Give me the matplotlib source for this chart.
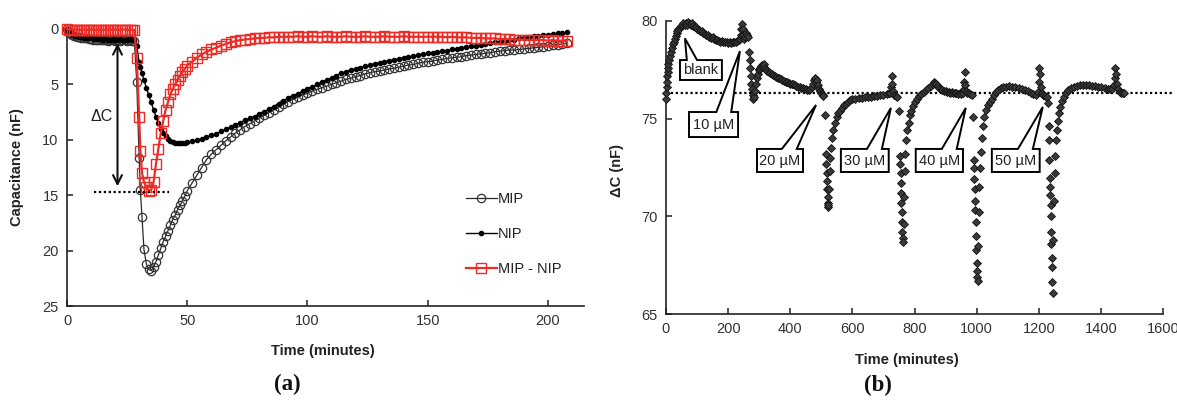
import numpy as np
import matplotlib
matplotlib.use("Agg")
import matplotlib.pyplot as plt
from matplotlib.patches import Polygon

plt.rcParams['font.family'] = ['Liberation Sans', 'DejaVu Sans']

# ---------------- Panel (a) data ----------------
T_A = [0, 1, 2, 3, 4, 5, 6, 7, 8, 9, 10, 11, 12, 13, 14, 15, 16, 17, 18, 19, 20, 21, 22, 23, 24, 25, 26, 27, 28,
       29, 30, 30.5, 31.2, 32, 33, 34, 35, 36, 37, 38, 39, 40, 41, 42, 43, 44, 45, 46, 47, 48, 49, 50,
       52, 54, 56, 58, 60, 62, 64, 66, 68, 70, 72, 74, 76, 78, 80, 82, 84, 86, 88, 90,
       92, 94, 96, 98, 100, 102, 104, 106, 108, 110, 112, 114, 116, 118, 120, 122, 124, 126, 128, 130,
       132, 134, 136, 138, 140, 142, 144, 146, 148, 150, 152, 154, 156, 158, 160, 162, 164, 166, 168, 170,
       172, 174, 176, 178, 180, 182, 184, 186, 188, 190, 192, 194, 196, 198, 200, 202, 204, 206, 208]

MIP = [0.0, 0.35, 0.55, 0.65, 0.7, 0.75, 0.8, 0.85, 0.85, 0.9, 0.9, 0.95, 0.95, 1.0, 0.95, 1.0, 1.0, 1.05, 1.0,
       1.0, 1.05, 1.0, 1.05, 1.0, 1.0, 1.05, 1.0, 1.05, 1.1,
       4.8, 11.6, 14.5, 17.0, 19.9, 21.2, 21.7, 21.8, 21.5, 21.0, 20.4, 19.8, 19.2, 18.7, 18.2, 17.7, 17.2, 16.8,
       16.3, 15.9, 15.5, 15.1, 14.6,
       13.9, 13.2, 12.5, 11.8, 11.3, 10.9, 10.5, 10.1, 9.75, 9.4,
       9.1, 8.8, 8.55, 8.3, 8.05, 7.8, 7.55, 7.3, 7.05, 6.8,
       6.55, 6.35, 6.15, 5.95, 5.8, 5.6, 5.45, 5.3, 5.15, 5.0,
       4.85, 4.7, 4.55, 4.45, 4.3, 4.2, 4.05, 3.95, 3.85, 3.8,
       3.7, 3.6, 3.55, 3.45, 3.35, 3.25, 3.2, 3.1, 3.0, 2.95,
       2.9, 2.8, 2.75, 2.65, 2.6, 2.55, 2.5, 2.4, 2.35, 2.3,
       2.25, 2.2, 2.15, 2.05, 2.0, 1.95, 1.9, 1.9, 1.85, 1.8,
       1.75, 1.7, 1.65, 1.6, 1.5, 1.45, 1.4, 1.35, 1.3]

NIP = [0.0, 0.3, 0.5, 0.6, 0.65, 0.7, 0.75, 0.8, 0.8, 0.85, 0.85, 0.9, 0.9, 0.9, 0.9, 0.95, 0.9, 0.95, 0.95,
       0.9, 0.95, 0.95, 0.9, 0.95, 0.95, 0.95, 0.9, 0.95, 1.0,
       1.5, 3.0, 3.4, 4.0, 4.6, 5.3, 6.0, 6.6, 7.3, 7.9, 8.5, 9.0, 9.4, 9.7, 9.9, 10.1, 10.2, 10.25,
       10.3, 10.3, 10.3, 10.25, 10.2,
       10.15, 10.05, 9.9, 9.75, 9.6, 9.45, 9.25, 9.05, 8.85, 8.65,
       8.45, 8.25, 8.05, 7.9, 7.7, 7.45, 7.25, 7.0, 6.75, 6.5,
       6.25, 6.05, 5.85, 5.6, 5.4, 5.2, 5.0, 4.8, 4.6, 4.4,
       4.2, 4.0, 3.85, 3.7, 3.6, 3.5, 3.35, 3.25, 3.15, 3.05,
       2.95, 2.85, 2.8, 2.7, 2.6, 2.5, 2.45, 2.35, 2.3, 2.2,
       2.15, 2.1, 2.0, 1.95, 1.85, 1.8, 1.7, 1.65, 1.55, 1.5,
       1.45, 1.35, 1.3, 1.2, 1.15, 1.05, 1.0, 0.95, 0.85, 0.8,
       0.7, 0.65, 0.6, 0.55, 0.5, 0.45, 0.4, 0.35, 0.3]

MIP_NIP = [0.0, 0.05, 0.05, 0.05, 0.05, 0.1, 0.05, 0.05, 0.1, 0.05, 0.05, 0.05, 0.1, 0.05, 0.05, 0.1, 0.05,
           0.05, 0.05, 0.1, 0.05, 0.05, 0.1, 0.05, 0.05, 0.05, 0.1, 0.05, 0.1,
           2.6, 7.9, 11.0, 13.0, 13.8, 14.3, 14.6, 14.5, 13.8, 12.2, 10.8, 9.4, 8.3, 7.3, 6.6, 5.9, 5.4, 5.0,
           4.6, 4.2, 3.9, 3.6, 3.3,
           2.95, 2.6, 2.3, 2.05, 1.85, 1.7, 1.5, 1.35, 1.2, 1.1,
           1.0, 0.95, 0.9, 0.85, 0.8, 0.8, 0.75, 0.75, 0.7, 0.7,
           0.7, 0.7, 0.65, 0.7, 0.7, 0.65, 0.7, 0.7, 0.65, 0.7,
           0.7, 0.7, 0.65, 0.7, 0.7, 0.7, 0.65, 0.7, 0.7, 0.7,
           0.65, 0.7, 0.7, 0.7, 0.65, 0.7, 0.7, 0.7, 0.7, 0.7,
           0.7, 0.7, 0.7, 0.75, 0.7, 0.75, 0.75, 0.75, 0.8, 0.8,
           0.8, 0.85, 0.85, 0.85, 0.9, 0.9, 0.9, 0.95, 0.95, 0.95,
           1.0, 1.0, 1.0, 1.0, 1.05, 1.0, 1.05, 1.05, 1.05]

LEGEND_A = ["MIP", "NIP", "MIP - NIP"]
DELTA_C_LEVEL = 14.7

# ---------------- Panel (b) data ----------------
T_B = [0, 1, 2, 3, 4, 5, 6, 8, 10, 13, 16, 19, 22, 25, 28, 31, 34, 37, 40, 44,
       48, 52, 56, 60, 64, 68, 72, 76, 80, 84, 88, 92, 96, 100, 105, 110, 115, 120, 125, 130,
       135, 140, 145, 150, 155, 160, 165, 170, 175, 180, 185, 190, 195, 200, 205, 210, 215, 220, 225, 230,
       234, 238, 241, 243, 245, 247, 249, 252, 255, 258, 261, 264, 267, 269, 271, 273, 275, 277, 279, 281,
       283, 286, 289, 292, 295, 298, 301, 304, 307, 310, 313, 316, 319, 322, 326, 330, 335, 340, 345, 350,
       355, 360, 365, 370, 375, 380, 385, 390, 395, 400, 405, 410, 415, 420, 425, 430, 435, 440, 445, 450,
       455, 460, 465, 470, 474, 477, 480, 483, 486, 489, 492, 495, 498, 501, 504, 507,
       511, 514, 515.5, 517, 518, 519, 520, 521, 522, 523, 525, 527, 529, 531, 534, 538, 543, 549, 555, 560,
       566, 572, 578, 585, 592, 600, 610, 620, 630, 640, 650, 660, 670, 680, 690, 700, 710, 717, 721, 724,
       726, 728, 731, 735, 740, 745,
       750, 753, 754, 755, 756, 757, 758, 759, 760, 761, 762, 763, 765, 767, 769, 771, 774, 777, 781, 785,
       790, 796, 802, 808, 815, 822, 830, 838, 845, 852, 858, 862, 866,
       870, 875, 880, 885, 890, 895, 900, 905, 910, 915, 920, 925, 930, 935, 940, 945, 950, 955, 958, 960,
       962, 964, 967, 970, 975, 980, 985,
       989, 991, 992, 993, 994, 995, 996, 997, 998, 999, 1000, 1001, 1002, 1003, 1005, 1007, 1009, 1011, 1013, 1016,
       1020, 1025, 1030, 1036, 1042, 1048, 1055, 1062, 1070, 1078, 1086, 1095, 1105, 1115, 1125, 1135, 1145, 1155, 1165, 1175,
       1182, 1190, 1196, 1200, 1202, 1204, 1207, 1211, 1215, 1220, 1226,
       1230, 1232, 1233, 1234, 1235, 1236, 1237, 1238, 1239, 1240, 1241, 1242, 1243, 1244, 1245, 1247, 1249, 1251, 1253, 1256,
       1259, 1262, 1266, 1270, 1275, 1281, 1288, 1295, 1303, 1312, 1322, 1332, 1342, 1352, 1362, 1372, 1382, 1392, 1402, 1412,
       1422, 1430, 1436, 1441, 1444, 1446, 1448, 1451, 1455, 1460, 1465, 1470, 1475]

V_B = [76.0, 76.3, 76.6, 76.9, 77.2, 77.4, 77.6, 77.8, 78.0, 78.2, 78.4, 78.6, 78.8, 78.95, 79.1, 79.25, 79.4, 79.5, 79.6, 79.65,
       79.75, 79.8, 79.9, 79.8, 79.9, 79.8, 79.95, 79.85, 79.8, 79.9, 79.75, 79.7, 79.7, 79.6, 79.55, 79.5, 79.5, 79.4, 79.35, 79.3,
       79.3, 79.2, 79.15, 79.2, 79.1, 79.05, 79.05, 79.0, 78.95, 79.0, 78.9, 78.95, 78.9, 78.85, 78.95, 78.85, 78.9, 78.95, 78.9, 79.0,
       79.05, 79.1, 79.3, 79.6, 79.85, 79.6, 79.3, 79.1, 79.2, 79.4, 79.3, 79.2, 78.4, 78.0, 77.6, 77.2, 76.8, 76.5, 76.2, 76.0,
       76.1, 76.4, 76.8, 77.1, 77.3, 77.5, 77.55, 77.6, 77.7, 77.75, 77.7, 77.8, 77.6, 77.5, 77.45, 77.4, 77.35, 77.3, 77.25, 77.2,
       77.15, 77.1, 77.1, 77.05, 77.0, 76.95, 76.9, 76.9, 76.85, 76.8, 76.75, 76.75, 76.7, 76.65, 76.6, 76.6, 76.55, 76.55, 76.5, 76.5,
       76.45, 76.45, 76.5, 76.6, 76.8, 77.0, 77.1, 76.9, 77.0, 76.7, 76.5, 76.4, 76.3, 76.25, 76.2, 76.15,
       75.2, 73.2, 72.7, 72.2, 71.8, 71.4, 71.0, 70.7, 70.5, 70.6, 71.4, 72.3, 73.0, 73.5, 74.0, 74.4, 74.8, 75.1, 75.3, 75.4,
       75.55, 75.7, 75.75, 75.85, 75.95, 76.0, 76.0, 76.05, 76.05, 76.1, 76.1, 76.1, 76.15, 76.15, 76.2, 76.2, 76.25, 76.3, 76.3, 76.6,
       77.2, 76.8, 76.4, 76.2, 76.15, 76.1,
       75.4, 73.1, 72.7, 72.2, 71.7, 71.2, 70.7, 70.2, 69.7, 69.2, 68.9, 68.7, 69.6, 71.0, 72.3, 73.2, 73.9, 74.4, 74.8, 75.2,
       75.4, 75.65, 75.85, 76.0, 76.15, 76.25, 76.35, 76.45, 76.55, 76.65, 76.8, 76.9, 76.85,
       76.75, 76.65, 76.55, 76.5, 76.45, 76.4, 76.4, 76.35, 76.35, 76.3, 76.35, 76.3, 76.3, 76.3, 76.25, 76.3, 76.25, 76.3, 76.5, 76.9,
       77.4, 76.7, 76.4, 76.3, 76.3, 76.25, 76.2,
       75.1, 72.9, 72.5, 71.9, 71.4, 70.8, 70.3, 69.7, 69.0, 68.3, 67.6, 67.2, 66.9, 66.7, 68.5, 70.2, 71.5, 72.5, 73.3, 74.0,
       74.6, 75.1, 75.45, 75.7, 75.85, 76.0, 76.2, 76.35, 76.45, 76.55, 76.6, 76.6, 76.65, 76.6, 76.6, 76.55, 76.5, 76.45, 76.4, 76.3,
       76.25, 76.2, 76.35, 76.9, 77.6, 77.3, 76.6, 76.3, 76.2, 76.15, 76.1,
       75.8, 74.6, 73.9, 72.9, 71.95, 71.5, 71.1, 70.6, 70.0, 69.2, 68.6, 67.85, 67.4, 66.66, 66.1, 68.8, 70.8, 72.2, 73.1, 73.9,
       74.4, 74.9, 75.3, 75.6, 75.9, 76.1, 76.3, 76.45, 76.55, 76.6, 76.65, 76.7, 76.7, 76.7, 76.7, 76.65, 76.65, 76.6, 76.6, 76.55,
       76.5, 76.5, 76.5, 76.7, 77.1, 77.6, 77.3, 76.8, 76.5, 76.35, 76.3, 76.3, 76.3]

BASELINE_B = 76.3

# callouts: label, box x-range, box y-range, wedge base on box top, wedge tip
CALLOUT_LABELS = ["blank", "10 µM", "20 µM", "30 µM", "40 µM", "50 µM"]
CALLOUT_BOX_X = [(45, 180), (74, 232), (293, 441), (563, 717), (804, 956), (1049, 1203)]
CALLOUT_BOX_Y = [(76.98, 78.0), (74.06, 75.34), (72.27, 73.45), (72.27, 73.45), (72.27, 73.45), (72.27, 73.45)]
CALLOUT_BASE = [(67, 100), (162, 210), (373, 421), (647, 695), (888, 936), (1133, 1181)]
CALLOUT_TIP = [(61, 79.11), (238, 78.46), (483, 75.7), (724, 75.55), (965, 75.55), (1213, 75.6)]

assert len(T_A) == len(MIP) == len(NIP) == len(MIP_NIP), (len(T_A), len(MIP), len(NIP), len(MIP_NIP))
assert len(T_B) == len(V_B), (len(T_B), len(V_B))

W, H = 1177, 401
fig = plt.figure(figsize=(W / 100, H / 100), dpi=100)

TICK_COLOR = '#333333'
LABEL_SIZE = 10.5


def style_axes(ax):
    for s in ['top', 'right']:
        ax.spines[s].set_visible(False)
    for s in ['left', 'bottom']:
        ax.spines[s].set_linewidth(1.2)
        ax.spines[s].set_color('#222222')
    ax.tick_params(direction='in', length=4, width=1.1, labelsize=LABEL_SIZE,
                   labelcolor=TICK_COLOR, color='#222222', pad=6)


# ---------------- Panel (a) ----------------
ax = fig.add_axes([67 / W, 1 - 306 / H, (584 - 67) / W, (306 - 29) / H])
style_axes(ax)
l1, = ax.plot(T_A, MIP, color='#2a2a2a', lw=0.9, marker='o', ms=6.0, mfc='none', mec='#333333',
              mew=0.9, clip_on=False, zorder=3)
l2, = ax.plot(T_A, NIP, color='black', lw=1.0, marker='o', ms=3.0, mfc='black', mec='black',
              clip_on=False, zorder=4)
l3, = ax.plot(T_A, MIP_NIP, color='#ee2b24', lw=1.6, marker='s', ms=6.5, mfc='none', mec='#ee2b24',
              mew=1.0, clip_on=False, zorder=5)
ax.set_xlim(0, 215)
ax.set_ylim(25, 0)
ax.set_xticks([0, 50, 100, 150, 200])
ax.set_yticks([0, 5, 10, 15, 20, 25])
ax.set_xlabel('Time (minutes)', fontsize=10.5, fontweight='bold', color='#222222')
ax.set_ylabel('Capacitance (nF)', fontsize=10.5, fontweight='bold', color='#222222')
ax.xaxis.set_label_coords(0.495, -0.137)
ax.yaxis.set_label_coords(-0.083, 0.5)

ax.plot([11.25, 42.5], [DELTA_C_LEVEL, DELTA_C_LEVEL], color='black', lw=1.6,
        linestyle=(0, (1, 1.2)), zorder=6)
ax.annotate('', xy=(21, 1.3), xytext=(21, 14.2),
            arrowprops=dict(arrowstyle='<->', lw=1.5, color='#111111', mutation_scale=16,
                            shrinkA=0, shrinkB=0), zorder=6)
ax.text(14.6, 7.9, 'ΔC', fontsize=11.5, ha='center', va='center', color='#222222')

leg = ax.legend([l1, l2, l3], LEGEND_A, loc='upper left', bbox_to_anchor=(0.772, 0.412),
                frameon=False, fontsize=10.5, handlelength=2.1, handletextpad=0.1,
                labelspacing=1.45, borderpad=0, borderaxespad=0, numpoints=1)
for t in leg.get_texts():
    t.set_color('#222222')

# ---------------- Panel (b) ----------------
bx = fig.add_axes([666 / W, 1 - 314 / H, (1163 - 666) / W, (314 - 21) / H])
style_axes(bx)
bx.plot(T_B, V_B, ls='none', marker='D', ms=3.8, mfc='#3a3a3a', mec='#111111', mew=0.6,
        clip_on=False, zorder=3)
bx.set_xlim(0, 1600)
bx.set_ylim(65, 80)
bx.set_xticks(range(0, 1601, 200))
bx.set_yticks([65, 70, 75, 80])
bx.set_xlabel('Time (minutes)', fontsize=10.5, fontweight='bold', color='#222222')
bx.set_ylabel('ΔC (nF)', fontsize=10.5, fontweight='bold', color='#222222')
bx.xaxis.set_label_coords(0.485, -0.133)
bx.yaxis.set_label_coords(-0.0845, 0.49)

bx.plot([0, 1628], [BASELINE_B, BASELINE_B], color='black', lw=1.6, linestyle=(0, (1, 1.2)),
        clip_on=False, zorder=2)

for lab, (x0, x1), (y0, y1), (ba, bb), (tx, ty) in zip(CALLOUT_LABELS, CALLOUT_BOX_X, CALLOUT_BOX_Y,
                                                       CALLOUT_BASE, CALLOUT_TIP):
    pts = [(x0, y0), (x1, y0), (x1, y1), (bb, y1), (tx, ty), (ba, y1), (x0, y1)]
    poly = Polygon(pts, closed=True, facecolor='white', edgecolor='black', lw=1.4, zorder=7,
                   joinstyle='miter')
    bx.add_patch(poly)
    bx.text((x0 + x1) / 2, (y0 + y1) / 2 - 0.02, lab, fontsize=10.5, ha='center', va='center',
            color='#222222', zorder=8)

fig.text(287 / W, 1 - 384 / H, '(a)', fontsize=16.5, fontweight='bold', family='Liberation Serif',
         ha='center', va='center', color='#111111')
fig.text(878 / W, 1 - 385 / H, '(b)', fontsize=16.5, fontweight='bold', family='Liberation Serif',
         ha='center', va='center', color='#111111')

fig.savefig('out.png', dpi=100)
